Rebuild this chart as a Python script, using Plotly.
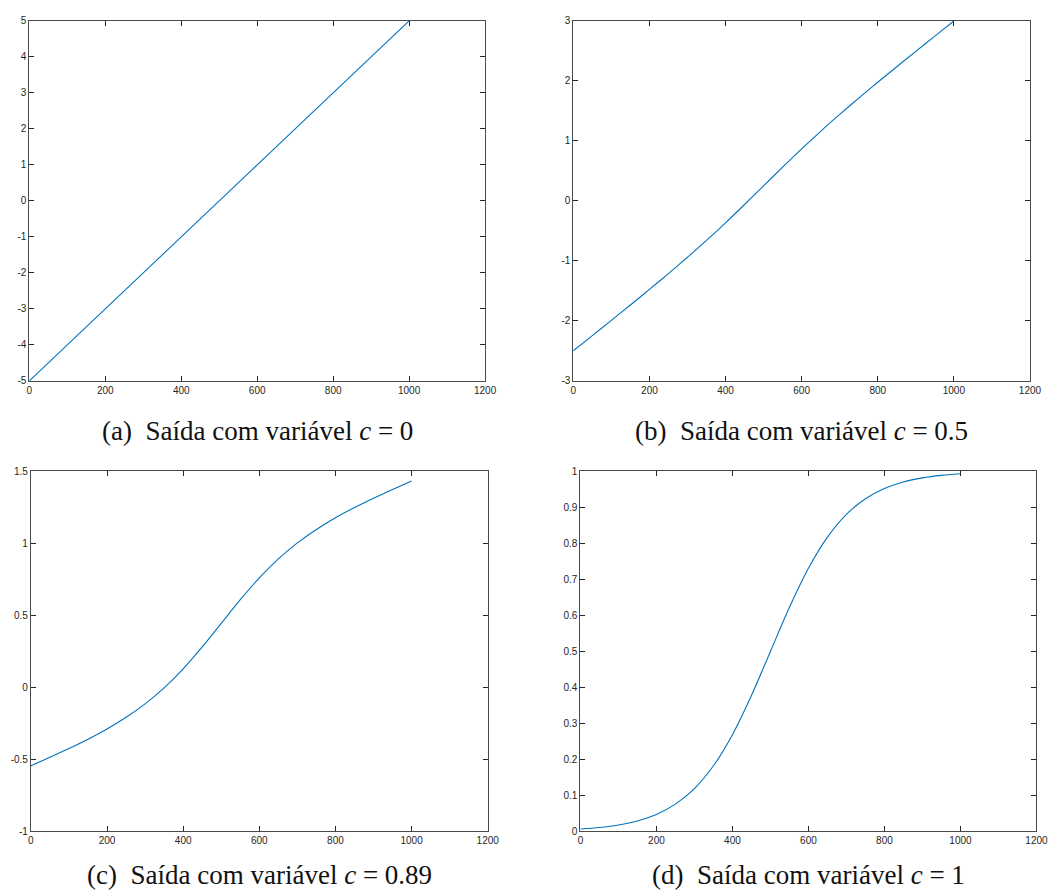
import plotly.graph_objects as go

# ---- data ----
t = [0, 50, 100, 150, 200, 250, 300, 350, 400, 450, 500,
     550, 600, 650, 700, 750, 800, 850, 900, 950, 1000]

y_a = [-5.0, -4.5, -4.0, -3.5, -3.0, -2.5, -2.0, -1.5, -1.0, -0.5, 0.0,
       0.5, 1.0, 1.5, 2.0, 2.5, 3.0, 3.5, 4.0, 4.5, 5.0]
y_b = [-2.497, -2.245, -1.991, -1.735, -1.476, -1.212, -0.940, -0.659, -0.366, -0.061, 0.250,
       0.561, 0.866, 1.159, 1.440, 1.712, 1.976, 2.235, 2.491, 2.745, 2.997]
y_c = [-0.544, -0.485, -0.424, -0.359, -0.288, -0.207, -0.114, -0.003, 0.129, 0.281, 0.445,
       0.609, 0.761, 0.893, 1.004, 1.097, 1.178, 1.249, 1.314, 1.375, 1.434]
y_d = [0.0067, 0.0110, 0.0180, 0.0293, 0.0474, 0.0759, 0.1192, 0.1824, 0.2689, 0.3775, 0.5000,
       0.6225, 0.7311, 0.8176, 0.8808, 0.9241, 0.9526, 0.9707, 0.9820, 0.9890, 0.9933]

x_ticks = [0, 200, 400, 600, 800, 1000, 1200]
x_ticklabels = ["0", "200", "400", "600", "800", "1000", "1200"]

ya_ticks = [-5, -4, -3, -2, -1, 0, 1, 2, 3, 4, 5]
ya_labels = ["-5", "-4", "-3", "-2", "-1", "0", "1", "2", "3", "4", "5"]
yb_ticks = [-3, -2, -1, 0, 1, 2, 3]
yb_labels = ["-3", "-2", "-1", "0", "1", "2", "3"]
yc_ticks = [-1, -0.5, 0, 0.5, 1, 1.5]
yc_labels = ["-1", "-0.5", "0", "0.5", "1", "1.5"]
yd_ticks = [0, 0.1, 0.2, 0.3, 0.4, 0.5, 0.6, 0.7, 0.8, 0.9, 1.0]
yd_labels = ["0", "0.1", "0.2", "0.3", "0.4", "0.5", "0.6", "0.7", "0.8", "0.9", "1"]

captions = ["(a)\u00a0\u00a0Saída com variável <i>c</i> = 0",
            "(b)\u00a0\u00a0Saída com variável <i>c</i> = 0.5",
            "(c)\u00a0\u00a0Saída com variável <i>c</i> = 0.89",
            "(d)\u00a0\u00a0Saída com variável <i>c</i> = 1"]

# ---- layout geometry (pixels in a 1060x895 canvas) ----
W, H = 1060, 895
boxes = [  # (left, right, top, bottom)
    (26.7, 489.0, 15.0, 380.0),
    (578.5, 1041.7, 15.0, 380.0),
    (28.3, 491.7, 471.7, 836.7),
    (585.7, 1048.3, 471.7, 836.7),
]
caption_y = [431, 431, 881, 881]

series = [y_a, y_b, y_c, y_d]
yranges = [(-5, 5), (-3, 3), (-1, 1.5), (0, 1)]
yticks = [(ya_ticks, ya_labels), (yb_ticks, yb_labels), (yc_ticks, yc_labels), (yd_ticks, yd_labels)]

LINE_COLOR = "#0072BD"
AX_COLOR = "#4a4a4a"
TICK_FONT = dict(family="Liberation Sans, Arial, sans-serif", size=10, color="#262626")
CAP_FONT = dict(family="Liberation Serif, DejaVu Serif, serif", size=27, color="#111111")

fig = go.Figure()
layout = dict(
    width=W, height=H,
    margin=dict(l=0, r=0, t=0, b=0),
    paper_bgcolor="white", plot_bgcolor="white",
    showlegend=False,
    annotations=[],
)

for i in range(4):
    n = "" if i == 0 else str(i + 1)
    l, r, tp, bt = boxes[i]
    fig.add_trace(go.Scatter(
        x=t, y=series[i], mode="lines",
        line=dict(color=LINE_COLOR, width=1.1, shape="spline", smoothing=0.8),
        xaxis="x" + n, yaxis="y" + n, hoverinfo="skip",
    ))
    layout["xaxis" + n] = dict(
        domain=[l / W, r / W], anchor="y" + n,
        range=[0, 1200], tickvals=x_ticks, ticktext=x_ticklabels,
        showgrid=False, zeroline=False,
        showline=True, linecolor=AX_COLOR, linewidth=1, mirror="ticks",
        ticks="inside", ticklen=5, tickcolor="#262626", tickwidth=1,
        tickfont=TICK_FONT, fixedrange=True,
    )
    layout["yaxis" + n] = dict(
        domain=[1 - bt / H, 1 - tp / H], anchor="x" + n,
        range=list(yranges[i]), tickvals=yticks[i][0], ticktext=yticks[i][1],
        showgrid=False, zeroline=False,
        showline=True, linecolor=AX_COLOR, linewidth=1, mirror="ticks",
        ticks="inside", ticklen=5, tickcolor="#262626", tickwidth=1,
        tickfont=TICK_FONT, fixedrange=True,
    )
    layout["annotations"].append(dict(
        text=captions[i], xref="paper", yref="paper",
        x=((l + r) / 2) / W, y=1 - caption_y[i] / H,
        xanchor="center", yanchor="middle", showarrow=False,
        font=CAP_FONT,
    ))

fig.update_layout(**layout)
fig.write_html("out.html")
